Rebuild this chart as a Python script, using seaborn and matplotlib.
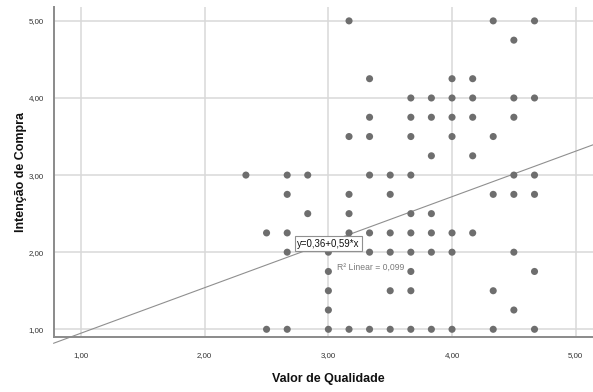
import matplotlib
matplotlib.use("Agg")
import matplotlib.pyplot as plt
import seaborn as sns
import pandas as pd
import numpy as np

# Scatter data: quality value (x) vs purchase intention (y), grouped by y level
intencao_niveis = [5.0, 4.75, 4.25, 4.0, 3.75, 3.5, 3.25, 3.0, 2.75, 2.5, 2.25, 2.0, 1.75, 1.5, 1.25, 1.0]
valor_por_nivel = [
    [3.167, 4.333, 4.667],
    [4.5],
    [3.333, 4.0, 4.167],
    [3.667, 3.833, 4.0, 4.167, 4.5, 4.667],
    [3.333, 3.667, 3.833, 4.0, 4.167, 4.5],
    [3.167, 3.333, 3.667, 4.0, 4.333],
    [3.833, 4.167],
    [2.333, 2.667, 2.833, 3.333, 3.5, 3.667, 4.5, 4.667],
    [2.667, 3.167, 3.5, 4.333, 4.5, 4.667],
    [2.833, 3.167, 3.667, 3.833],
    [2.5, 2.667, 3.167, 3.333, 3.5, 3.667, 3.833, 4.0, 4.167],
    [2.667, 3.0, 3.333, 3.5, 3.667, 3.833, 4.0, 4.5],
    [3.0, 3.667, 4.667],
    [3.0, 3.5, 3.667, 4.333],
    [3.0, 4.5],
    [2.5, 2.667, 3.0, 3.167, 3.333, 3.5, 3.667, 3.833, 4.0, 4.333, 4.667],
]

# Fitted linear model
intercepto = 0.36
inclinacao = 0.59
r2 = 0.099

tick_vals = [1.0, 2.0, 3.0, 4.0, 5.0]
tick_labels = ["1,00", "2,00", "3,00", "4,00", "5,00"]

rows = []
for yv, xs in zip(intencao_niveis, valor_por_nivel):
    for xv in xs:
        rows.append({"Valor de Qualidade": xv, "Intenção de Compra": yv})
df = pd.DataFrame(rows)

sns.set_theme(style="white")
plt.rcParams["font.family"] = ["Liberation Sans", "DejaVu Sans"]

W, H = 593, 392
fig = plt.figure(figsize=(W / 100, H / 100), dpi=100)
left, right, bottom, top = 53.5, 593, 337, 7
ax = fig.add_axes([left / W, 1 - bottom / H, (right - left) / W, (bottom - top) / H])

xlim = (0.777, 5.14)
ylim = (0.90, 5.18)
ax.set_xlim(*xlim)
ax.set_ylim(*ylim)

ax.set_axisbelow(True)
ax.grid(True, color="#d9d9d9", linewidth=1.1)

# regression line across the full x range (allowed to run past the frame corner)
xl = np.array(xlim)
ax.plot(xl, intercepto + inclinacao * xl, color="#8f8f8f", linewidth=0.8, zorder=2,
        clip_on=False)

sns.scatterplot(data=df, x="Valor de Qualidade", y="Intenção de Compra", ax=ax,
                color="#6e6e6e", s=26, edgecolor="none", linewidth=0, zorder=3)

ax.set_xticks(tick_vals)
ax.set_xticklabels(tick_labels)
ax.set_yticks(tick_vals)
ax.set_yticklabels(tick_labels)
ax.tick_params(axis="both", length=0, labelsize=5.7, colors="#333333")
ax.tick_params(axis="x", pad=11)
ax.tick_params(axis="y", pad=7)

for side in ["top", "right"]:
    ax.spines[side].set_visible(False)
for side in ["left", "bottom"]:
    ax.spines[side].set_color("#8a8a8a")
    ax.spines[side].set_linewidth(1.4)
    ax.spines[side].set_zorder(4)

ax.set_xlabel("Valor de Qualidade", fontsize=9, fontweight="bold", color="#111111")
ax.set_ylabel("Intenção de Compra", fontsize=9, fontweight="bold", color="#111111")
ax.xaxis.set_label_coords((328.5 - left) / (right - left), -(373 - bottom) / (bottom - top))
ax.yaxis.set_label_coords(-(left - 27.5) / (right - left), 0.5)

eq = "y=" + f"{intercepto:.2f}".replace(".", ",") + "+" + f"{inclinacao:.2f}".replace(".", ",") + "*x"
ax.text(3.0, 2.112, eq, ha="center", va="center", fontsize=6.9, color="#111111", zorder=5,
        bbox=dict(boxstyle="square,pad=0.22", fc="white", ec="#909090", lw=0.8))
ax.text(3.066, 1.80, "R² Linear = " + f"{r2:.3f}".replace(".", ","), ha="left", va="center",
        fontsize=6.2, color="#7a7a7a", zorder=5)

fig.savefig("out.png", dpi=100)
